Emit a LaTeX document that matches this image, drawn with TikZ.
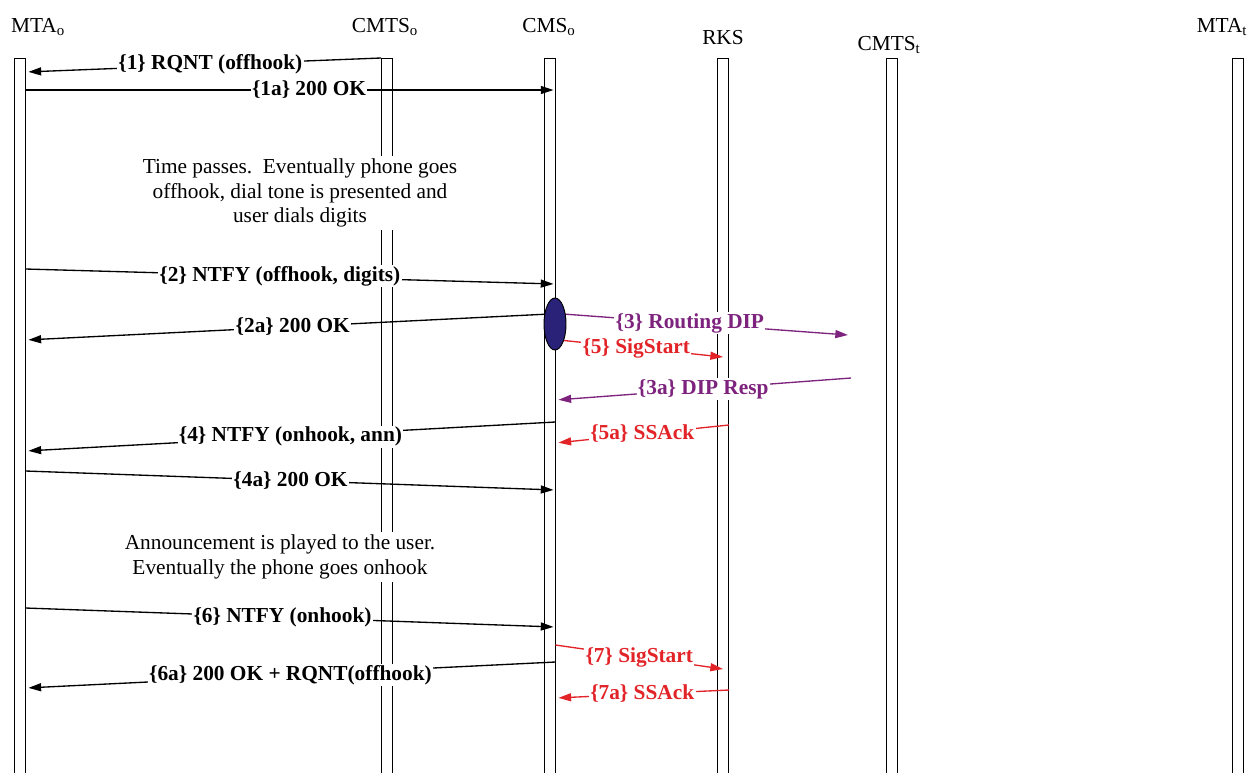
\documentclass[tikz,border=0pt]{standalone}
\usepackage{fontspec}
\setmainfont{Liberation Serif}
\usetikzlibrary{arrows.meta, shapes.geometric, positioning}
\definecolor{dippurple}{RGB}{125,35,125}
\definecolor{sigred}{RGB}{226,35,40}
\definecolor{dipnavy}{RGB}{42,34,120}

\begin{document}
\begin{tikzpicture}[
    x=0.75pt, y=-0.75pt,
    font=\fontsize{16}{18.5}\selectfont,
    life/.style={rectangle, draw=black, line width=0.7pt, minimum width=8.25pt, minimum height=570pt, anchor=north, inner sep=0pt},
    actor/.style={inner sep=0pt},
    msg/.style={-{Triangle[length=9.5pt,width=6pt]}, line width=1pt},
    lbl/.style={fill=white, inner sep=1pt, font=\fontsize{16}{18.5}\selectfont\bfseries},
    note/.style={align=center, fill=white, inner sep=2pt}
]
\useasboundingbox (0,0) rectangle (1248,772);

% Lifelines
\node[life] (mtao)  at (19.5,58)   {};
\node[life] (cmtso) at (387,58)    {};
\node[life] (cmso)  at (549.5,58)  {};
\node[life] (rks)   at (723,58)    {};
\node[life] (cmtst) at (891.5,58)  {};
\node[life] (mtat)  at (1237.5,58) {};

% Names
\node[actor] (n_mtao)  at (38,27)   {MTA\textsubscript{o}};
\node[actor] (n_cmtso) at (385,27)  {CMTS\textsubscript{o}};
\node[actor] (n_cmso)  at (549,27)  {CMS\textsubscript{o}};
\node[actor] (n_rks)   at (723,38)  {RKS};
\node[actor] (n_cmtst) at (889,45)  {CMTS\textsubscript{t}};
\node[actor] (n_mtat)  at (1222,27) {MTA\textsubscript{t}};

% Notes
\node[note] (pass1) at (300,193) {Time passes.\ \ Eventually phone goes\\offhook, dial tone is presented and\\user dials digits};
\node[note] (pass2) at (280,557) {Announcement is played to the user.\\Eventually the phone goes onhook};

% Free ends at CMTS_t
\coordinate (dipout) at (848,335);
\coordinate (dipin)  at (851,378);

% Messages
\draw[msg, shorten >=2.25pt] (cmtso.north west) -- node[lbl, pos=.48] {\{1\} RQNT (offhook)} (mtao.east |- 0,72);
\draw[msg, shorten >=1.5pt] (mtao.east |- 0,90) -- node[lbl, pos=.535] {\{1a\} 200 OK} (cmso.east |- 0,90);
\draw[msg, shorten >=1.5pt] (mtao.east |- 0,269) -- node[lbl, pos=.48] {\{2\} NTFY (offhook, digits)} (cmso.east |- 0,284);
\draw[msg, shorten >=2.25pt] (cmso |- 0,314) -- node[lbl, pos=.49] {\{2a\} 200 OK} (mtao.east |- 0,340);
\draw[msg, dippurple] (cmso |- 0,313) -- node[lbl, pos=.47] {\{3\} Routing DIP} (dipout);
\draw[msg, sigred] (cmso |- 0,339) -- node[lbl, pos=.5] {\{5\} SigStart} (rks |- 0,357);
\draw[msg, dippurple, shorten >=2.25pt] (dipin) -- node[lbl] {\{3a\} DIP Resp} (cmso.east |- 0,400);
\draw[msg, shorten >=2.25pt] (cmso.east |- 0,422) -- node[lbl] {\{4\} NTFY (onhook, ann)} (mtao.east |- 0,451);
\draw[msg, sigred, shorten >=2.25pt] (rks.east |- 0,425) -- node[lbl] {\{5a\} SSAck} (cmso.east |- 0,443);
\draw[msg, shorten >=1.5pt] (mtao.east |- 0,471) -- node[lbl] {\{4a\} 200 OK} (cmso.east |- 0,490);
\draw[msg, shorten >=1.5pt] (mtao.east |- 0,608) -- node[lbl, pos=.485] {\{6\} NTFY (onhook)} (cmso.east |- 0,627);
\draw[msg, sigred] (cmso.east |- 0,645) -- node[lbl] {\{7\} SigStart} (rks |- 0,669);
\draw[msg, shorten >=2.25pt] (cmso.east |- 0,662) -- node[lbl] {\{6a\} 200 OK + RQNT(offhook)} (mtao.east |- 0,688);
\draw[msg, sigred, shorten >=2.25pt] (rks.east |- 0,690) -- node[lbl] {\{7a\} SSAck} (cmso.east |- 0,698);

% DIP activity
\node[ellipse, draw=black, line width=0.7pt, fill=dipnavy, minimum width=16.5pt, minimum height=39pt, inner sep=0pt] (dip) at (555,324) {};
\end{tikzpicture}
\end{document}
